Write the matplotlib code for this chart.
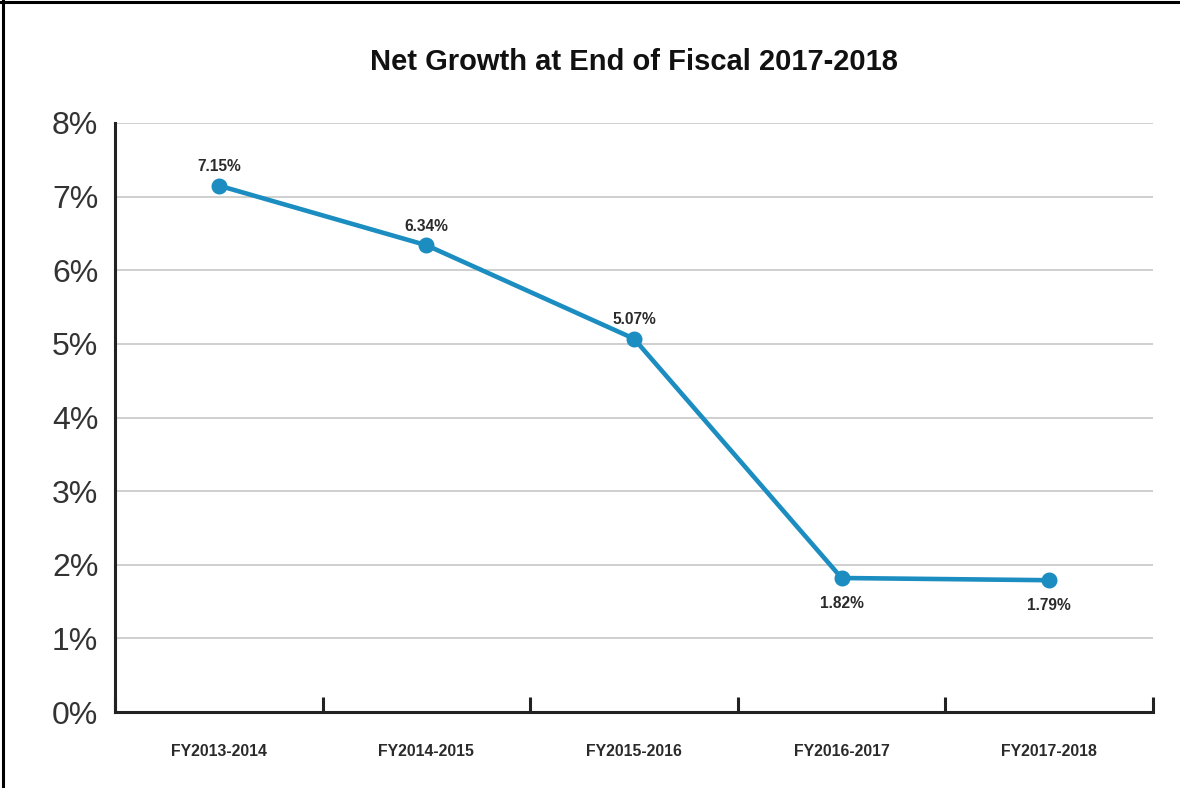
import matplotlib
matplotlib.use('Agg')
import matplotlib.pyplot as plt
from matplotlib.ticker import FixedLocator, FuncFormatter

plt.rcParams['font.family'] = ['Liberation Sans', 'DejaVu Sans']

# growth per fiscal year, in percent
years = ['FY2013-2014', 'FY2014-2015', 'FY2015-2016', 'FY2016-2017', 'FY2017-2018']
growth = [7.15, 6.34, 5.07, 1.82, 1.79]
label_above = [True, True, True, False, False]

line_color = '#1b8dc0'
axis_color = '#222222'

fig = plt.figure(figsize=(11.8, 7.88), dpi=100)
ax = fig.add_axes([115/1180, 1 - 712/788, (1153 - 115)/1180, (712 - 123)/788])

xs = [i + 0.5 for i in range(len(years))]
ax.plot(xs, growth, color=line_color, lw=3.3, marker='o', ms=10.5, zorder=3,
        solid_capstyle='round')

for x, v, up in zip(xs, growth, label_above):
    ax.annotate('%.2f%%' % v, (x, v), xytext=(0, 13.5 if up else -18.5),
                textcoords='offset points', ha='center', va='center',
                fontsize=11.2, fontweight='bold', color='#2a2a2a')

ax.set_xlim(0, len(years))
ax.set_ylim(0, 8)

# category boundaries carry the tick marks, names sit in between
ax.xaxis.set_major_locator(FixedLocator(range(len(years) + 1)))
ax.xaxis.set_minor_locator(FixedLocator(xs))
ax.set_xticklabels([], minor=False)
ax.set_xticklabels(years, minor=True, fontweight='bold')
ax.tick_params(axis='x', which='major', direction='in', length=10.5, width=2.2,
               color=axis_color)
ax.tick_params(axis='x', which='minor', length=0, pad=23, labelsize=11.4,
               labelcolor='#2a2a2a')

ax.yaxis.set_major_locator(FixedLocator(range(0, 9)))
ax.yaxis.set_major_formatter(FuncFormatter(lambda v, p: '%d%%' % v))
ax.tick_params(axis='y', length=0, pad=12, labelsize=23, labelcolor='#333333')

ax.grid(axis='y', color='#c2c2c2', lw=1.1, zorder=0)
ax.set_axisbelow(True)

for s in ['top', 'right']:
    ax.spines[s].set_visible(False)
for s in ['left', 'bottom']:
    ax.spines[s].set_color(axis_color)
    ax.spines[s].set_linewidth(2.2)
    ax.spines[s].set_zorder(4)

fig.text(634/1180, 1 - 62/788, 'Net Growth at End of Fiscal 2017-2018',
         ha='center', va='center', fontsize=21, fontweight='bold', color='#111111')

# frame lines along the top and left edges of the image
fig.add_artist(plt.Line2D([0, 1], [1 - 2/788, 1 - 2/788], transform=fig.transFigure,
                          color='black', lw=2.2))
fig.add_artist(plt.Line2D([3/1180, 3/1180], [0, 1], transform=fig.transFigure,
                          color='black', lw=2.2))

fig.savefig('out.png', dpi=100)
